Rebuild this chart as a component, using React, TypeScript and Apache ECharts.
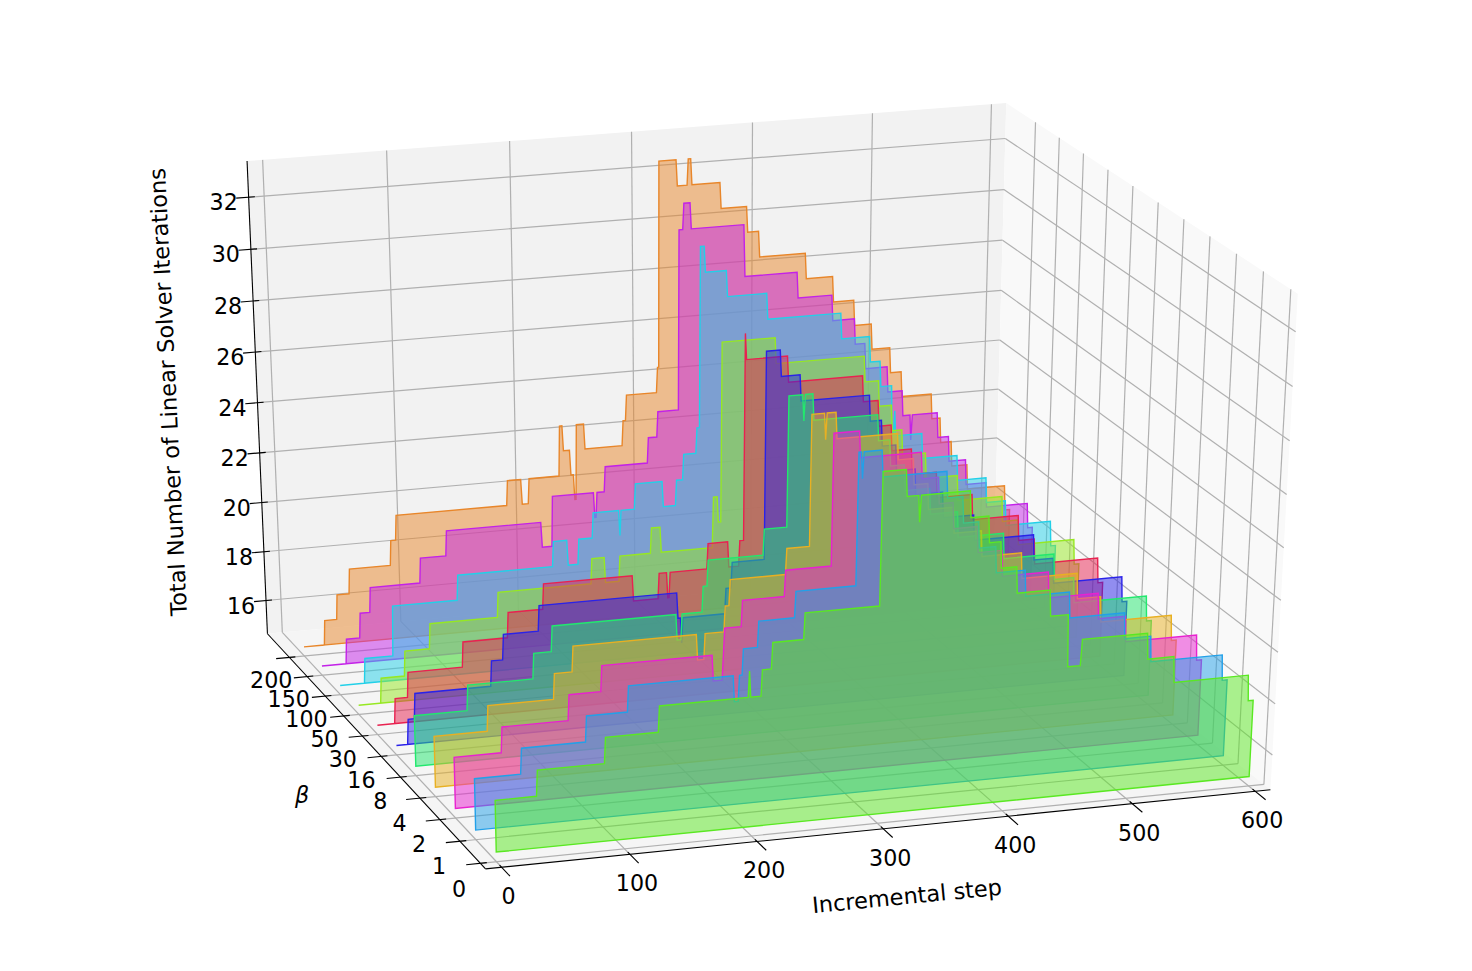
import React, { useEffect, useRef } from "react";
import * as echarts from "echarts";

// Tick values and labels
const stepTicks = [0, 100, 200, 300, 400, 500, 600];
const betaLabels = ["0", "1", "2", "4", "8", "16", "30", "50", "100", "150", "200"];
const iterTicks = [16, 18, 20, 22, 24, 26, 28, 30, 32];
const baseIter = 15;

// Each beta: the last step of every run and the iteration count held during that run
const ends200 = [17, 28, 39, 74, 79, 172, 184, 190, 216, 219, 225, 228, 230, 237, 269, 272, 298, 300, 315, 324, 327, 351, 373, 383, 422, 445, 463, 478, 494, 504, 530, 538, 548, 562, 595, 600];
const iters200 = [15, 16, 17, 18, 19, 20, 21, 20, 21, 23, 22, 21, 20, 23, 22, 23, 24, 25, 33, 32, 33, 32, 31, 30, 29, 28, 27, 26, 25, 24, 23, 22, 21, 20, 19, 18];
const ends150 = [20, 32, 41, 83, 105, 184, 193, 228, 230, 237, 273, 281, 299, 303, 309, 353, 397, 426, 445, 454, 473, 486, 493, 494, 516, 526, 541, 559, 595, 600];
const iters150 = [15, 16, 17, 18, 19, 20, 19, 21, 20, 21, 22, 23, 24, 31, 32, 31, 29, 28, 27, 26, 25, 24, 23, 22, 23, 22, 21, 20, 19, 18];
const ends100 = [20, 44, 98, 177, 189, 198, 210, 232, 233, 245, 268, 279, 285, 296, 299, 303, 321, 354, 415, 439, 448, 458, 460, 461, 484, 514, 539, 556, 595, 600];
const iters100 = [15, 16, 18, 19, 20, 19, 20, 21, 20, 21, 22, 21, 22, 23, 24, 31, 30, 29, 28, 27, 26, 25, 23, 24, 23, 22, 21, 20, 19, 18];
const ends50 = [18, 38, 59, 115, 192, 203, 215, 241, 249, 292, 296, 299, 343, 416, 428, 439, 448, 468, 495, 533, 547, 595, 600];
const iters50 = [15, 16, 17, 18, 19, 20, 19, 20, 21, 20, 22, 21, 28, 27, 26, 25, 24, 23, 22, 21, 20, 19, 18];
const ends30 = [14, 25, 70, 107, 136, 209, 230, 237, 239, 270, 287, 296, 300, 301, 335, 396, 409, 420, 437, 458, 488, 527, 541, 595, 600];
const iters30 = [15, 16, 17, 18, 19, 20, 19, 20, 19, 20, 21, 20, 21, 29, 28, 27, 26, 25, 24, 23, 22, 21, 20, 19, 18];
const ends16 = [9, 15, 77, 87, 116, 228, 231, 232, 267, 272, 299, 311, 327, 383, 393, 405, 421, 444, 470, 520, 537, 595, 600];
const iters16 = [15, 16, 17, 18, 19, 20, 19, 18, 19, 20, 21, 29, 28, 27, 26, 25, 24, 23, 22, 21, 20, 19, 18];
const ends8 = [42, 95, 110, 210, 214, 231, 235, 280, 299, 311, 312, 319, 371, 381, 393, 414, 437, 475, 517, 534, 595, 600];
const iters8 = [17, 18, 19, 20, 19, 20, 21, 22, 23, 28, 27, 28, 27, 26, 25, 24, 23, 22, 21, 20, 19, 18];
const ends4 = [42, 95, 110, 209, 215, 231, 235, 280, 299, 310, 311, 319, 368, 381, 393, 414, 437, 470, 516, 536, 595, 600];
const iters4 = [17, 18, 19, 20, 19, 20, 21, 22, 23, 28, 27, 28, 27, 26, 25, 24, 23, 22, 21, 20, 19, 18];
const ends2 = [37, 90, 116, 204, 212, 213, 227, 261, 298, 319, 368, 382, 394, 414, 434, 472, 513, 536, 595, 600];
const iters2 = [17, 18, 19, 20, 19, 20, 21, 22, 23, 28, 27, 26, 25, 24, 23, 22, 21, 20, 19, 18];
const ends1 = [36, 87, 120, 203, 207, 210, 222, 251, 299, 302, 303, 318, 369, 382, 395, 409, 433, 469, 514, 536, 595, 600];
const iters1 = [17, 18, 19, 20, 19, 20, 21, 22, 23, 28, 27, 28, 27, 26, 25, 24, 23, 22, 21, 20, 19, 18];
const ends0 = [32, 85, 127, 197, 198, 207, 215, 240, 299, 318, 328, 329, 368, 383, 393, 406, 433, 448, 459, 512, 534, 595, 600];
const iters0 = [17, 18, 19, 20, 21, 20, 21, 22, 23, 28, 27, 26, 27, 26, 25, 24, 23, 22, 20, 21, 20, 19, 18];

const lines = [
  { ends: ends0, iters: iters0, color: "#5ae822" },
  { ends: ends1, iters: iters1, color: "#22a0e8" },
  { ends: ends2, iters: iters2, color: "#e822d0" },
  { ends: ends4, iters: iters4, color: "#e8b022" },
  { ends: ends8, iters: iters8, color: "#22e86e" },
  { ends: ends16, iters: iters16, color: "#2a22e8" },
  { ends: ends30, iters: iters30, color: "#e82250" },
  { ends: ends50, iters: iters50, color: "#96e822" },
  { ends: ends100, iters: iters100, color: "#22d0e8" },
  { ends: ends150, iters: iters150, color: "#c322e8" },
  { ends: ends200, iters: iters200, color: "#e8862a" },
];

// Box limits in data units
const S0 = -12.5, S1 = 612.5;
const B0 = -0.25, B1 = 11.25;
const Z0 = 14.625, Z1 = 33.375;

// Camera calibration: world point -> page pixel
const calibration: number[][] = [
  [S0, B0, Z0, 485, 870], [S1, B0, Z0, 1273, 788], [S0, B1, Z0, 268, 633],
  [S0, B1, Z1, 247, 161], [S1, B1, Z1, 1007, 103], [S1, B0, Z1, 1296, 294],
  [S1, B1, 32, 1007, 138], [S1, B1, 30, 1006, 189], [600, B1, Z1, 990, 104.5],
  [0, B1, Z1, 262, 160], [0, B1, Z0, 283, 632], [S1, 0, Z1, 1290, 290], [S1, 10, Z1, 1036, 122],
  [600, 0, 15, 1250, 776], [600, 10, 15, 1003, 584],
];

const norm = (s: number, b: number, z: number) => [(s - S0) / (S1 - S0), (b - B0) / (B1 - B0), (z - Z0) / (Z1 - Z0)];

function solveCamera(): number[] {
  const n = 11;
  const A: number[][] = Array.from({ length: n }, () => new Array(n + 1).fill(0));
  const add = (row: number[], rhs: number) => {
    for (let i = 0; i < n; i++) {
      for (let j = 0; j < n; j++) A[i][j] += row[i] * row[j];
      A[i][n] += row[i] * rhs;
    }
  };
  for (const [s, b, z, px, py] of calibration) {
    const [u, v, w] = norm(s, b, z);
    const x = px / 1000, y = py / 1000;
    add([u, v, w, 1, 0, 0, 0, 0, -x * u, -x * v, -x * w], x);
    add([0, 0, 0, 0, u, v, w, 1, -y * u, -y * v, -y * w], y);
  }
  for (let c = 0; c < n; c++) {
    let p = c;
    for (let r = c + 1; r < n; r++) if (Math.abs(A[r][c]) > Math.abs(A[p][c])) p = r;
    [A[c], A[p]] = [A[p], A[c]];
    for (let r = 0; r < n; r++) {
      if (r === c) continue;
      const f = A[r][c] / A[c][c];
      for (let k = c; k <= n; k++) A[r][k] -= f * A[c][k];
    }
  }
  return A.map((row, i) => row[n] / row[i]);
}
const cam = solveCamera();
function project(s: number, b: number, z: number): number[] {
  const [u, v, w] = norm(s, b, z);
  const d = cam[8] * u + cam[9] * v + cam[10] * w + 1;
  return [
    (1000 * (cam[0] * u + cam[1] * v + cam[2] * w + cam[3])) / d,
    (1000 * (cam[4] * u + cam[5] * v + cam[6] * w + cam[7])) / d,
  ];
}

const font = '"DejaVu Sans"';
const GRID = "#b0b0b0";

function seg(a: number[], b: number[], stroke: string, lineWidth: number) {
  return { type: "line", shape: { x1: a[0], y1: a[1], x2: b[0], y2: b[1] }, style: { stroke, lineWidth } };
}
function pane(pts: number[][], fill: string) {
  return { type: "polygon", shape: { points: pts }, style: { fill } };
}

function frameChildren() {
  const out: any[] = [];
  out.push(pane([project(S0, B1, Z0), project(S1, B1, Z0), project(S1, B1, Z1), project(S0, B1, Z1)], "#f2f2f2"));
  out.push(pane([project(S1, B0, Z0), project(S1, B1, Z0), project(S1, B1, Z1), project(S1, B0, Z1)], "#f9f9f9"));
  out.push(pane([project(S0, B0, Z0), project(S1, B0, Z0), project(S1, B1, Z0), project(S0, B1, Z0)], "#f5f5f5"));
  for (const z of iterTicks) {
    out.push(seg(project(S0, B1, z), project(S1, B1, z), GRID, 1.2));
    out.push(seg(project(S1, B1, z), project(S1, B0, z), GRID, 1.2));
  }
  for (const s of stepTicks) {
    out.push(seg(project(s, B0, Z0), project(s, B1, Z0), GRID, 1.2));
    out.push(seg(project(s, B1, Z0), project(s, B1, Z1), GRID, 1.2));
  }
  for (let k = 0; k <= 10; k++) {
    out.push(seg(project(S0, k, Z0), project(S1, k, Z0), GRID, 1.2));
    out.push(seg(project(S1, k, Z0), project(S1, k, Z1), GRID, 1.2));
  }
  out.push(seg(project(S0, B0, Z0), project(S1, B0, Z0), "#000", 1.1));
  out.push(seg(project(S0, B0, Z0), project(S0, B1, Z0), "#000", 1.1));
  out.push(seg(project(S0, B1, Z0), project(S0, B1, Z1), "#000", 1.1));
  for (const s of stepTicks) out.push(seg(project(s, B0 + 0.1, Z0), project(s, B0 - 0.4, Z0), "#000", 1.1));
  for (let k = 0; k <= 10; k++) out.push(seg(project(S0 + 5, k, Z0), project(S0 - 11, k, Z0), "#000", 1.1));
  for (const z of iterTicks) out.push(seg(project(S0 + 5, B1, z), project(S0 - 10, B1, z), "#000", 1.1));
  return out;
}

function outline(ends: number[], iters: number[], b: number): number[][] {
  const pts: number[][] = [project(0, b, baseIter)];
  let start = 0;
  ends.forEach((end, i) => {
    pts.push(project(start, b, iters[i]));
    if (end > start) pts.push(project(end, b, iters[i]));
    start = end + 1;
  });
  pts.push(project(ends[ends.length - 1], b, baseIter));
  return pts;
}

function text(t: string, x: number, y: number, size = 22.2, rotation = 0, fontStyle = "normal") {
  return {
    type: "text", x, y, rotation, silent: true,
    style: { text: t, fill: "#000", font: `${fontStyle} ${size}px ${font}`, textAlign: "center", textVerticalAlign: "middle" },
  };
}

export default function App() {
  const ref = useRef<HTMLDivElement>(null);
  useEffect(() => {
    const chart = echarts.init(ref.current!, null, { renderer: "svg" });
    const graphics: any[] = [];
    for (const s of stepTicks) {
      const p = project(s, B0, Z0);
      graphics.push(text(String(s), p[0] + 7, p[1] + 29));
    }
    betaLabels.forEach((l, i) => {
      const p = project(S0, i - 1, Z0);
      graphics.push(text(l, p[0] - 42 + 0.6 * i, p[1] + 3));
    });
    for (const z of iterTicks) {
      const p = project(S0, B1, z);
      graphics.push(text(String(z), p[0] - 25, p[1] + 5));
    }
    graphics.push(text("Incremental step", 907, 896, 22.5, 0.097));
    graphics.push(text("Total Number of Linear Solver Iterations", 168, 392, 22.5, 1.62));
    graphics.push(text("β", 302, 795, 22.2, 0, "italic"));

    const series: any[] = [
      {
        type: "custom", coordinateSystem: "none", silent: true, data: [[0]], z: 1,
        renderItem: () => ({ type: "group", children: frameChildren() }),
      },
    ];
    for (let b = lines.length - 1; b >= 0; b--) {
      const l = lines[b];
      series.push({
        type: "custom", coordinateSystem: "none", silent: true, z: 2 + (lines.length - b),
        data: l.ends.map((e, i) => [e, l.iters[i]]),
        renderItem: (params: any) =>
          params.dataIndex === 0
            ? {
                type: "polygon",
                shape: { points: outline(l.ends, l.iters, b) },
                style: { fill: echarts.color.modifyAlpha(l.color, 0.5), stroke: l.color, lineWidth: 1.4, lineJoin: "miter" },
              }
            : null,
      });
    }
    chart.setOption({ animation: false, backgroundColor: "#fff", graphic: { elements: graphics }, series });
    return () => chart.dispose();
  }, []);
  return <div ref={ref} style={{ position: "fixed", left: 0, top: 0, width: 1472, height: 971 }} />;
}
